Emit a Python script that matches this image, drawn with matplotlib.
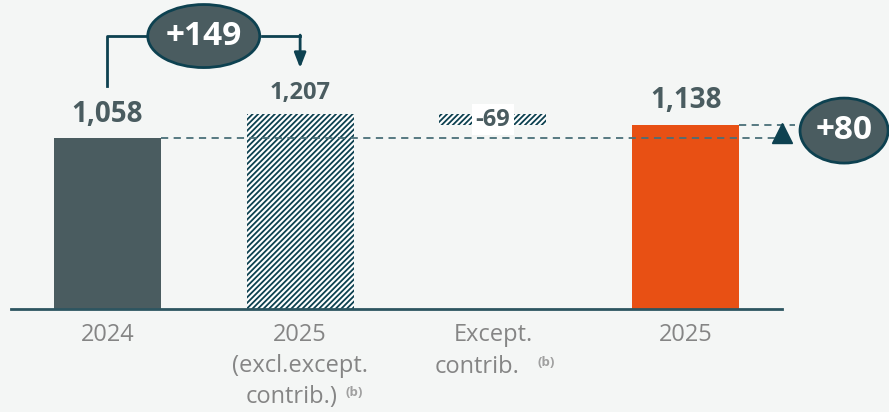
import matplotlib.pyplot as plt
from matplotlib.patches import Ellipse

categories = ["2024", "2025\n(excl.except.", "Except.", "2025"]
footnoted_lines = {1: "contrib.)", 2: "contrib."}
values = [1058, 1207, -69, 1138]
value_labels = ["1,058", "1,207", "-69", "1,138"]
delta_labels = ["+149", "+80"]

slate = '#4a5c60'
teal = '#0d4150'
orange = '#e85014'
grey = '#858585'
bg = '#f4f6f5'

plt.rcParams['hatch.linewidth'] = 1.3
plt.rcParams['font.family'] = ['Open Sans', 'DejaVu Sans']

fig = plt.figure(figsize=(8.89, 4.12), dpi=100, facecolor=bg)
ax = fig.add_axes([11 / 889, 1 - 309 / 412, 771 / 889, 309 / 412])
ax.set_facecolor(bg)
ax.set_xlim(-0.5, 3.5)
ax.set_ylim(0, 1912)

w = 0.555
x = list(range(len(values)))
end_excl = values[1] + values[2]

ax.bar(x[0], values[0], width=w, color=slate, zorder=2)
ax.bar(x[1], values[1], width=w, facecolor='white', edgecolor=teal, linewidth=0, hatch='//////', zorder=2)
ax.bar(x[2], -values[2], bottom=end_excl, width=w, facecolor='white', edgecolor=teal, linewidth=0, hatch='//////', zorder=2)
ax.bar(x[3], values[3], width=w, color=orange, zorder=2)

# value labels
label_cfg = [(values[0], 20, 24), (values[1], 17, 21), (None, 17, 0), (values[3], 20, 25)]
for i, (top, fs, off) in enumerate(label_cfg):
    if top is None:
        ax.text(x[i], end_excl - values[2] / 2, value_labels[i], ha='center', va='center',
                fontsize=fs, fontweight='bold', color=slate, zorder=4,
                bbox=dict(boxstyle='square,pad=0.15', fc='white', ec='none'))
    else:
        ax.annotate(value_labels[i], (x[i], top), xytext=(0, off), textcoords='offset pixels',
                    ha='center', va='center', fontsize=fs, fontweight='bold', color=slate, zorder=4)

# dashed reference lines
ax.plot([x[0] + w / 2, 3.47], [values[0], values[0]], ls=(0, (4, 3)), color='#4a6f78', lw=1.3, zorder=3, clip_on=False)
ax.plot([x[3] + w / 2, 3.57], [values[3], values[3]], ls=(0, (4, 3)), color='#4a6f78', lw=1.3, zorder=3, clip_on=False)

# +149 connector
yc = 1689
ax.plot([x[0], x[0], 0.2], [values[0] + 322, yc, yc], color=teal, lw=2, zorder=3, clip_on=False)
ax.plot([0.8, x[1]], [yc, yc], color=teal, lw=2, zorder=3, clip_on=False)
ax.annotate('', xy=(x[1], values[1] + 284), xytext=(x[1], yc + 6),
            arrowprops=dict(arrowstyle='-|>,head_width=0.35,head_length=0.9', color=teal, lw=2,
                            shrinkA=0, shrinkB=0), annotation_clip=False, zorder=3)
ax.add_patch(Ellipse((0.5, yc), 0.581, 390, facecolor=slate, edgecolor=teal, lw=2, zorder=5, clip_on=False))
ax.text(0.5, yc, delta_labels[0], ha='center', va='center', fontsize=24, fontweight='bold',
        color='white', zorder=6)

# +80 marker
ax.plot([3.5], [1088], marker='^', markersize=15, color=teal, zorder=4, clip_on=False)
ax.add_patch(Ellipse((3.822, 1104), 0.457, 402, facecolor=slate, edgecolor=teal, lw=2, zorder=5, clip_on=False))
ax.text(3.822, 1104, delta_labels[1], ha='center', va='center', fontsize=24, fontweight='bold',
        color='white', zorder=6, clip_on=False)

# axes styling
for s in ['top', 'left', 'right']:
    ax.spines[s].set_visible(False)
ax.spines['bottom'].set_color('#2d5560')
ax.spines['bottom'].set_linewidth(2)
ax.set_yticks([])
ax.set_xticks(x)
ax.set_xticklabels(categories, fontsize=17, color=grey, linespacing=1.37)
ax.tick_params(axis='x', length=0, pad=10)

# last label lines with footnote marks
line_y = {1: -88, 2: -58}
for i, txt in footnoted_lines.items():
    ax.annotate(txt, (x[i], 0), xytext=(37 if i == 1 else 27, line_y[i]), textcoords='offset pixels',
                ha='right', va='center', fontsize=17, color=grey, annotation_clip=False)
    ax.annotate('(b)', (x[i], 0), xytext=(45, line_y[i] + 5), textcoords='offset pixels',
                ha='left', va='center', fontsize=9.5, fontweight='bold', color='#a0a0a0',
                annotation_clip=False)

fig.savefig('out.png', dpi=100, facecolor=bg)
